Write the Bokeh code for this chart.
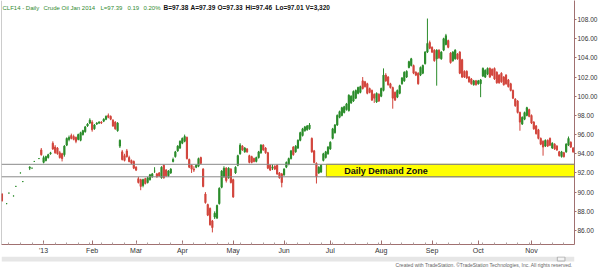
import numpy as np
from bokeh.plotting import figure
from bokeh.layouts import column
from bokeh.models import (Range1d, FixedTicker, NumeralTickFormatter, Label, Span, ColumnDataSource)
from bokeh.core.properties import value
from bokeh.embed import file_html
from bokeh.resources import INLINE

nan = float("nan")

# Daily bars for CLF14, numbered from the first session of 2013 (bar 0 = Jan 2)
first_bar = -18
opens = [89.8, nan, 88.8, 89.9, nan, 89.6, 90.6, nan, 92.0, 91.1, nan, nan, 92.5, 92.5, 93.2, nan, 93.5, 94.4,
         93.1, 93.3, 93.6, 94.0, 95.1, 94.7, 94.6, 94.1, 94.0, 93.9, 94.9, 95.5, 95.9, 95.8, 95.7, 95.5, 95.4, 96.0,
         96.3, 96.9, 97.2, 97.3, 96.6, 97.1, 97.2, 97.3, 97.4, 97.6, 98.0, 97.9, 97.5, 97.3, 96.4, 94.8, 94.2, 93.8,
         94.3, 93.6, 93.3, 93.2, 92.6, 91.4, 91.3, 90.7, 91.4, 91.0, 91.3, 91.6, 92.2, 91.9, 92.0, 91.5, 92.8, 92.3,
         91.7, 92.0, 93.2, 93.7, 94.3, 94.6, 95.1, 95.3, 95.7, 93.4, 92.8, 92.4, 92.6, 92.7, 93.6, 92.4, 89.8, 88.7,
         88.3, 87.0, 87.4, 87.3, 88.8, 90.5, 91.6, 92.5, 91.5, 92.4, 91.3, 92.0, 92.8, 94.0, 94.8, 94.2, 94.5, 93.8,
         93.7, 93.5, 93.2, 93.6, 94.1, 94.9, 94.6, 94.1, 92.8, 92.5, 92.7, 92.8, 92.0, 91.9, 91.8, 92.6, 92.9, 93.5,
         94.7, 94.2, 94.6, 95.4, 95.9, 96.4, 96.5, 96.6, 95.6, 94.3, 93.0, 92.0, 92.1, 93.3, 93.6, 94.0, 94.5, 95.6,
         96.2, 97.0, 97.8, 98.0, 98.3, 98.6, 98.5, 99.3, 99.5, 99.8, 100.3, 100.4, 101.6, 101.5, 101.3, 100.8, 100.6,
         100.2, 99.4, 100.2, 100.0, 100.6, 102.2, 102.0, 101.3, 100.9, 100.4, 99.9, 100.3, 101.3, 101.6, 102.0, 103.0,
         103.2, 103.2, 102.5, 102.4, 102.2, 102.4, 103.4, 104.6, 105.6, 105.1, 104.8, 103.9, 104.8, 103.9, 104.8,
         105.4, 105.8, 104.5, 103.7, 103.9, 104.4, 104.6, 103.8, 102.6, 102.6, 102.0, 101.8, 101.2, 101.6, 101.3,
         101.3, 102.1, 102.0, 102.3, 102.9, 102.8, 102.9, 102.5, 102.2, 102.4, 102.0, 102.2, 101.7, 101.3, 100.6,
         99.7, 99.5, 98.3, 97.1, 97.6, 98.0, 98.6, 98.0, 97.3, 96.9, 96.5, 95.6, 95.3, 94.8, 95.4, 95.6, 94.6, 95.0,
         94.8, 94.2, 93.7, 94.1, 94.2, 94.9, 95.2, 94.6]
highs = [89.9, nan, 88.8, 89.9, nan, 89.6, 90.6, nan, 92.0, 91.1, nan, nan, 92.7, 92.5, 93.2, nan, 93.5, 94.6,
         93.8, 93.8, 94.0, 94.2, 95.3, 94.9, 94.7, 94.3, 94.1, 94.9, 95.7, 95.9, 96.1, 96.0, 95.8, 96.1, 96.3, 96.5,
         96.9, 97.2, 97.7, 97.5, 97.1, 97.3, 97.4, 97.4, 97.7, 98.0, 98.2, 98.0, 97.6, 97.4, 97.3, 95.5, 94.4, 94.0,
         94.5, 93.8, 93.4, 93.3, 92.7, 91.6, 91.4, 91.4, 91.5, 91.6, 91.9, 92.0, 92.6, 92.0, 92.1, 92.7, 92.9, 92.4,
         92.3, 92.5, 93.6, 94.3, 94.9, 95.4, 95.7, 96.0, 95.8, 93.5, 92.9, 92.7, 92.9, 93.6, 93.7, 92.5, 90.0, 88.8,
         88.4, 87.1, 88.0, 88.7, 90.5, 92.3, 92.7, 92.6, 92.6, 92.5, 91.4, 92.7, 93.9, 95.1, 94.9, 94.7, 94.6, 93.9,
         93.8, 93.6, 93.7, 94.3, 95.0, 95.0, 94.7, 94.2, 92.9, 92.9, 92.8, 92.9, 92.1, 92.0, 92.5, 93.2, 93.6, 94.4,
         94.8, 94.9, 95.5, 96.3, 96.7, 96.9, 97.0, 97.2, 95.7, 94.4, 93.1, 92.7, 92.9, 94.1, 94.3, 94.8, 95.3, 96.7,
         97.1, 98.1, 98.5, 98.9, 99.0, 99.3, 100.2, 100.1, 100.6, 100.7, 101.0, 101.1, 102.0, 101.6, 101.4, 100.9,
         100.7, 100.3, 100.4, 100.3, 100.9, 102.9, 102.4, 102.1, 101.4, 101.0, 100.5, 100.7, 101.2, 102.0, 102.6,
         102.7, 103.7, 104.0, 103.3, 102.6, 102.5, 103.1, 103.3, 104.7, 108.1, 105.8, 105.2, 104.9, 104.9, 104.9,
         104.7, 106.1, 106.5, 105.9, 104.6, 104.7, 104.9, 104.5, 104.7, 103.9, 102.7, 102.7, 102.1, 101.9, 101.7,
         101.7, 101.7, 101.8, 103.0, 102.8, 103.0, 103.0, 102.9, 103.0, 102.6, 102.3, 102.5, 102.1, 102.3, 101.8,
         101.4, 100.7, 99.8, 99.6, 98.4, 97.9, 98.4, 98.9, 98.7, 98.1, 97.4, 97.0, 96.6, 95.7, 95.4, 95.5, 95.5,
         95.7, 95.2, 95.1, 94.9, 94.3, 94.3, 94.2, 95.1, 95.8, 95.3, 94.7]
lows = [89.0, nan, 88.8, 89.9, nan, 89.6, 90.6, nan, 92.0, 91.1, nan, nan, 92.3, 92.5, 93.2, nan, 93.5, 93.8,
        93.0, 93.2, 93.5, 93.9, 94.4, 94.0, 93.9, 93.5, 93.2, 93.7, 94.8, 95.3, 95.5, 95.4, 95.1, 95.4, 95.3, 95.9,
        96.2, 96.8, 97.1, 96.3, 96.5, 97.0, 97.1, 97.1, 97.3, 97.5, 97.7, 97.5, 96.8, 96.5, 96.3, 94.6, 93.3, 93.2,
        93.6, 93.1, 92.9, 92.4, 92.2, 90.9, 90.2, 90.5, 90.8, 90.9, 91.2, 91.5, 92.0, 91.5, 91.6, 91.4, 91.4, 91.6,
        91.6, 91.9, 93.1, 93.6, 94.2, 94.5, 95.0, 95.2, 93.4, 92.5, 92.0, 92.1, 92.5, 92.6, 92.9, 90.5, 88.8, 87.5,
        86.5, 85.8, 87.2, 87.2, 88.7, 90.4, 91.5, 91.0, 91.4, 90.9, 89.4, 91.9, 92.7, 93.9, 94.3, 94.1, 94.1, 93.0,
        93.0, 93.1, 93.1, 93.5, 94.0, 94.3, 94.0, 92.4, 92.2, 92.3, 92.3, 91.8, 91.4, 90.5, 91.7, 92.5, 92.8, 93.4,
        93.8, 94.1, 94.5, 95.3, 95.8, 96.3, 96.4, 96.5, 94.1, 93.0, 90.9, 91.9, 92.0, 93.2, 93.5, 93.9, 94.4, 95.5,
        96.1, 96.9, 97.7, 97.9, 98.2, 98.5, 98.4, 99.2, 99.4, 99.7, 100.2, 100.3, 100.7, 100.9, 100.2, 100.3, 99.5,
        99.3, 99.3, 99.4, 99.9, 100.5, 101.5, 101.1, 100.8, 98.7, 99.5, 99.8, 100.2, 101.2, 101.5, 101.9, 102.9,
        103.1, 102.3, 102.1, 101.2, 102.1, 102.3, 103.3, 104.5, 104.9, 104.5, 103.6, 101.1, 103.9, 103.8, 104.7,
        105.3, 105.0, 103.4, 103.6, 103.8, 103.8, 102.3, 101.9, 101.9, 101.8, 101.4, 101.2, 101.1, 101.1, 101.2,
        99.9, 102.0, 101.9, 102.2, 101.9, 102.1, 101.7, 101.3, 101.3, 101.4, 101.1, 101.2, 100.9, 100.5, 99.7,
        98.9, 98.2, 96.4, 97.0, 97.5, 97.9, 97.8, 97.1, 96.5, 96.0, 95.5, 94.9, 93.8, 94.7, 94.7, 94.8, 94.5, 94.4,
        94.3, 93.7, 93.6, 93.6, 94.1, 94.8, 94.6, 94.1]
closes = [89.1, nan, 88.8, 89.9, nan, 89.6, 90.6, nan, 92.0, 91.1, nan, nan, 92.6, 92.5, 93.2, nan, 93.5, 93.9,
          93.6, 93.7, 93.9, 94.1, 94.5, 94.1, 94.0, 93.6, 93.5, 94.8, 95.6, 95.7, 95.6, 95.5, 95.3, 96.0, 96.2, 96.4,
          96.8, 97.1, 97.5, 96.5, 97.0, 97.2, 97.3, 97.2, 97.6, 97.9, 97.8, 97.6, 96.9, 96.6, 97.2, 95.4, 93.4, 93.3,
          93.7, 93.2, 93.0, 92.5, 92.3, 91.0, 90.6, 91.3, 90.9, 91.5, 91.8, 91.9, 92.2, 91.6, 91.7, 92.6, 91.5, 91.7,
          92.2, 92.4, 93.4, 94.2, 94.8, 95.3, 95.6, 95.8, 93.5, 92.6, 92.4, 92.3, 92.8, 93.5, 93.0, 90.6, 88.9, 87.6,
          86.6, 86.3, 87.8, 88.6, 90.4, 92.2, 92.5, 91.2, 92.5, 91.0, 89.5, 92.6, 93.8, 94.9, 94.4, 94.6, 94.2, 93.1,
          93.1, 93.2, 93.6, 94.2, 94.9, 94.4, 94.1, 92.5, 92.3, 92.6, 92.4, 91.9, 91.5, 91.0, 92.4, 93.1, 93.5, 94.3,
          93.9, 94.8, 95.4, 96.2, 96.6, 96.8, 96.9, 97.0, 94.2, 93.1, 91.6, 92.6, 92.8, 94.0, 94.2, 94.7, 95.2, 96.6,
          97.0, 98.0, 98.4, 98.8, 98.9, 99.2, 100.1, 100.0, 100.5, 100.6, 100.9, 101.0, 100.8, 101.0, 100.3, 100.4,
          99.6, 99.8, 100.3, 99.5, 100.8, 102.2, 101.6, 101.2, 100.9, 99.8, 99.6, 100.6, 101.1, 101.9, 102.5, 102.6,
          103.6, 103.9, 102.4, 102.2, 101.3, 103.0, 103.2, 104.6, 105.5, 105.0, 104.6, 103.7, 104.8, 104.0, 104.6,
          106.0, 106.3, 105.1, 103.5, 104.6, 104.8, 103.9, 102.4, 102.0, 102.0, 101.9, 101.5, 101.3, 101.6, 101.2,
          101.6, 101.7, 102.9, 102.7, 102.9, 102.0, 102.2, 101.8, 101.4, 101.4, 101.5, 101.2, 101.3, 101.0, 100.6,
          99.8, 99.0, 98.3, 97.3, 97.8, 98.3, 98.8, 97.9, 97.2, 96.6, 96.1, 95.6, 95.0, 94.7, 95.4, 94.8, 94.9, 95.1,
          94.5, 94.4, 93.8, 94.2, 93.7, 95.0, 95.6, 94.7, 94.2]

# Month labels on the first session of each month
month_ticks = [0, 21, 40, 60, 82, 104, 124, 146, 168, 188, 211]
month_labels = ["'13", "Feb", "Mar", "Apr", "May", "Jun", "Jul", "Aug", "Sep", "Oct", "Nov"]
price_ticks = [86, 88, 90, 92, 94, 96, 98, 100, 102, 104, 106, 108]

# Daily demand zone and its bounding levels
zone_top, zone_bottom = 92.9, 91.6
zone_start_bar = 122.3
zone_label = "Daily Demand Zone"

last_price = 97.39
header_green = ["CLF14 - Daily", "Crude Oil Jan 2014", "L=97.39", "0.19", "0.20%"]
header_black = ["B=97.38", "A=97.39", "O=97.33", "Hi=97.46", "Lo=97.01", "V=3,320"]
credits = "Created with TradeStation. \u00a9TradeStation Technologies, Inc. All rights reserved."

UP, DOWN = "#2b8c2b", "#d2453c"
FONT = "Liberation Sans"

o = np.array(opens, dtype=float)
h = np.array(highs, dtype=float)
l = np.array(lows, dtype=float)
c = np.array(closes, dtype=float)
idx = np.arange(first_bar, first_bar + len(o))
colors = [UP if cc >= oo else DOWN for oo, cc in zip(o, c)]
src = ColumnDataSource(dict(x=idx, o=o, h=h, l=l, c=c,
                            top=np.fmax(o, c), bottom=np.fmin(o, c), color=colors))

p = figure(width=600, height=256, output_backend="svg", toolbar_location=None,
           x_range=Range1d(-18.2, 229.6), y_range=Range1d(84.54, 109.98),
           y_axis_location="right", min_border_left=1, min_border_right=24,
           min_border_top=0, min_border_bottom=12)
p.outline_line_color = None
p.grid.visible = False
p.background_fill_color = "white"
p.border_fill_color = "white"

# left edge of the chart pane
p.add_layout(Span(location=-18.2, dimension="height", line_color="#9a9a9a", line_width=1))

# demand zone: horizontal levels and the highlighted box
for lvl in (zone_top, zone_bottom):
    p.add_layout(Span(location=lvl, dimension="width", line_color="#8a8a8a", line_width=1))
p.quad(left=[zone_start_bar], right=[240], top=[zone_top], bottom=[zone_bottom],
       fill_color="#ffff00", line_color="#a8a000", line_width=1)
p.text(x=[130.0], y=[(zone_top + zone_bottom) / 2], text=[zone_label],
       text_font=value(FONT), text_font_size="9px", text_font_style="bold",
       text_color="#111111", text_baseline="middle", text_align="left")

# candles
p.segment(x0="x", y0="l", x1="x", y1="h", source=src, line_color="color", line_width=1)
p.vbar(x="x", top="top", bottom="bottom", width=0.5, source=src,
       fill_color="color", line_color="color", line_width=1)

# axes
xa = p.xaxis[0]
xa.ticker = FixedTicker(ticks=month_ticks, minor_ticks=list(range(-15, 230, 5)))
xa.major_label_overrides = {t: s for t, s in zip(month_ticks, month_labels)}
xa.axis_line_color = "#a07070"
xa.major_tick_line_color = "#a07070"
xa.minor_tick_line_color = "#b0a0a0"
xa.major_tick_in, xa.major_tick_out = 4, 0
xa.minor_tick_in, xa.minor_tick_out = 2, 0
xa.major_label_standoff = 2
xa.major_label_text_font = FONT
xa.major_label_text_font_size = "7px"
xa.major_label_text_color = "#333333"

ya = p.yaxis[0]
ya.ticker = FixedTicker(ticks=price_ticks)
ya.formatter = NumeralTickFormatter(format="0.00")
ya.axis_line_color = "#a07070"
ya.major_tick_line_color = "#a07070"
ya.minor_tick_line_color = None
ya.major_tick_in, ya.major_tick_out = 0, 2
ya.major_label_standoff = 1
ya.major_label_text_font = FONT
ya.major_label_text_font_size = "6.5px"
ya.major_label_text_color = "#333333"

# last price marker on the price scale
p.add_layout(Label(x=576, y=last_price, x_units="screen", y_units="data", text=f"{last_price:.2f}",
                   text_font=FONT, text_font_size="6.5px", text_font_style="bold",
                   text_color="white", text_baseline="middle",
                   background_fill_color="#0c5a0c", padding=1))

# header line
for s, xs in zip(header_green, [1, 42, 99, 126, 142]):
    p.add_layout(Label(x=xs, y=237, x_units="screen", y_units="screen", text=s,
                       text_font=FONT, text_font_size="6px", text_color="#2f8a2f",
                       text_baseline="middle"))
for s, xs in zip(header_black, [162, 189, 216, 244, 274, 304]):
    p.add_layout(Label(x=xs, y=237, x_units="screen", y_units="screen", text=s,
                       text_font=FONT, text_font_size="6.5px", text_font_style="bold",
                       text_color="#111111", text_baseline="middle"))

# scroll strip and credits under the time axis
strip = figure(width=600, height=12, output_backend="svg", toolbar_location=None,
               x_range=Range1d(0, 600), y_range=Range1d(12, 0),
               x_axis_location=None, y_axis_location=None,
               min_border=0)
strip.outline_line_color = None
strip.grid.visible = False
strip.quad(left=[0], right=[600], top=[0], bottom=[5], fill_color="#e6e6e6", line_color=None)
strip.quad(left=[582], right=[590], top=[0.5], bottom=[4.5], fill_color="#f4f4f4", line_color="#b0b0b0")
strip.text(x=[598], y=[8], text=[credits], text_font=value(FONT), text_font_size="5px",
           text_color="#666666", text_align="right", text_baseline="middle")

open("out.html", "w").write(file_html(column(p, strip, spacing=0), INLINE))
